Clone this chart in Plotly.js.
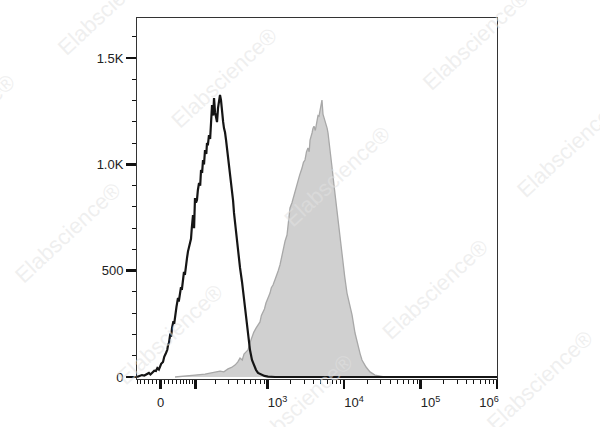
<!DOCTYPE html>
<html>
<head>
<meta charset="utf-8">
<script src="https://cdn.plot.ly/plotly-3.0.1.min.js"></script>
<style>
  html, body { margin: 0; padding: 0; background: #ffffff; }
  #chart { width: 600px; height: 427px; }
</style>
</head>
<body>
<div id="chart"></div>
<script>
// ---- Data (x in biexponential display units: 3 = 10^3, 4 = 10^4 ...; y = event count) ----
const isotypeX = [1.294,1.33,1.359,1.39,1.425,1.45,1.47,1.490,1.52,1.542,1.56,1.58,1.595,1.61,1.634,1.65,1.673,1.69,1.70,1.712,1.73,1.74,1.752,1.77,1.78,1.791,1.81,1.83,1.84,1.869,1.88,1.908,1.92,1.948,1.96,1.987,2.00,2.01,2.026,2.04,2.052,2.065,2.078,2.09,2.105,2.12,2.131,2.145,2.157,2.17,2.183,2.20,2.209,2.22,2.235,2.25,2.261,2.275,2.29,2.301,2.314,2.33,2.340,2.353,2.365,2.379,2.392,2.405,2.42,2.431,2.445,2.458,2.47,2.484,2.51,2.536,2.55,2.562,2.588,2.614,2.641,2.667,2.693,2.719,2.745,2.771,2.797,2.824,2.850,2.876,2.90,2.928,2.96,3.007,3.098,3.294,6.0];
const isotypeY = [0,5,9,7,14,19,12,19,30,28,42,35,47,62,71,95,113,128,150,160,205,190,231,262,250,287,330,372,355,423,410,494,480,560,590,630,650,700,762,700,842,820,833,880,913,900,974,960,1021,1000,1068,1050,1101,1090,1138,1120,1171,1279,1230,1312,1246,1200,1199,1265,1300,1327,1303,1232,1200,1171,1150,1115,1080,1035,950,866,830,772,682,597,513,447,362,268,198,127,80,52,33,19,14,9,5,2,0,0,0];

const stainedX = [1.791,1.895,2.052,2.183,2.275,2.379,2.43,2.484,2.53,2.575,2.61,2.641,2.67,2.693,2.72,2.745,2.77,2.797,2.82,2.850,2.875,2.902,2.92,2.941,2.96,2.980,3.00,3.033,3.05,3.072,3.10,3.124,3.14,3.163,3.18,3.203,3.23,3.255,3.275,3.294,3.32,3.346,3.37,3.399,3.42,3.451,3.47,3.490,3.51,3.529,3.545,3.556,3.57,3.582,3.595,3.608,3.625,3.647,3.66,3.673,3.686,3.70,3.712,3.725,3.74,3.752,3.765,3.78,3.791,3.817,3.83,3.843,3.869,3.895,3.922,3.948,3.987,4.01,4.039,4.06,4.078,4.105,4.144,4.183,4.21,4.235,4.288,4.340,4.405,4.510,4.667,6.0];
const stainedY = [0,5,9,14,19,28,24,38,45,56,70,89,80,108,118,127,160,188,210,230,245,259,290,306,320,348,365,395,420,433,460,480,500,527,560,602,640,668,730,795,820,856,880,927,950,983,1010,1021,1060,1077,1060,1115,1130,1148,1170,1180,1160,1209,1230,1227,1256,1280,1303,1237,1220,1209,1190,1170,1148,1077,1050,988,903,819,738,659,527,470,395,360,339,292,207,141,110,80,47,24,9,2,0,0];

// Axis ticks
const yTickVals = [0, 500, 1000, 1500];
const yTickText = ['0', '500', '1.0K', '1.5K'];
const yMinorVals = [100,200,300,400,600,700,800,900,1100,1200,1300,1400,1600];
const xMajorIntensity = [0, 100, 1000, 10000, 100000, 1000000];
const xLabelIntensity = [0, 1000, 10000, 100000, 1000000];
const xLabelText = ['0', '10<sup>3</sup>', '10<sup>4</sup>', '10<sup>5</sup>', '10<sup>6</sup>'];
const xMinorIntensity = [-60,-50,-40,-30,-20,-10,10,20,30,40,50,60,70,80,90,
  200,300,400,500,600,700,800,900,
  2000,3000,4000,5000,6000,7000,8000,9000,
  20000,30000,40000,50000,60000,70000,80000,90000,
  200000,300000,400000,500000,600000,700000,800000,900000];

// biexponential (arcsinh) display transform used by the axis
const W = 40;
function biex(v) { return Math.log10(W) + Math.asinh(v / (2 * W)) / Math.LN10; }

// small label offsets (label placement of the original software)
const labelShift = [0, 0.13, 0.13, 0.13, -0.105];

const xRange = [1.294, 6.0];
const yRange = [-9.4, 1689];

const traces = [
  {
    x: stainedX, y: stainedY, type: 'scatter', mode: 'lines',
    fill: 'tozeroy', fillcolor: 'rgb(208,208,208)',
    line: { color: 'rgb(168,168,168)', width: 1.3 },
    hoverinfo: 'skip', showlegend: false
  },
  {
    x: isotypeX, y: isotypeY, type: 'scatter', mode: 'lines',
    line: { color: '#151515', width: 2.2 },
    hoverinfo: 'skip', showlegend: false
  },
  { x: [null], y: [null], xaxis: 'x2', type: 'scatter', mode: 'lines', hoverinfo: 'skip', showlegend: false }
];

// watermark positions (paper coordinates)
const wmX = [-0.075, 0.244, 0.939, -0.486, 0.556, 1.203, -0.192, 0.092, 0.453, 0.828, 1.119];
const wmY = [1.036, 0.834, 0.939, 0.704, 0.560, 0.640, 0.407, 0.122, -0.072, 0.247, -0.003];
const annotations = wmX.map((xv, i) => ({
  text: 'Elabscience®', x: xv, y: wmY[i], xref: 'paper', yref: 'paper',
  xanchor: 'center', yanchor: 'middle',
  showarrow: false, textangle: -43,
  font: { family: 'Liberation Sans, Arial, sans-serif', size: 22, color: 'rgba(226,226,226,0.55)' }
}));

const layout = {
  width: 600, height: 427,
  margin: { l: 137, r: 103, t: 18, b: 48 },
  paper_bgcolor: '#ffffff', plot_bgcolor: '#ffffff',
  font: { family: 'Liberation Sans, Arial, sans-serif', size: 13, color: '#222' },
  showlegend: false,
  xaxis: {
    range: xRange, showgrid: false, zeroline: false,
    showline: true, mirror: true, linecolor: '#333', linewidth: 1,
    tickmode: 'array', tickvals: xMajorIntensity.map(biex),
    ticks: 'outside', ticklen: 9, tickwidth: 2.5, tickcolor: '#111',
    showticklabels: false,
    minor: { tickmode: 'array', tickvals: xMinorIntensity.map(biex), ticks: 'outside', ticklen: 4, tickwidth: 1, tickcolor: '#111' }
  },
  xaxis2: {
    overlaying: 'x', anchor: 'y', side: 'bottom',
    range: xRange, showgrid: false, zeroline: false, showline: false,
    tickmode: 'array',
    tickvals: xLabelIntensity.map((v, i) => biex(v) + labelShift[i]),
    ticktext: xLabelText,
    ticks: '', ticklabelstandoff: 14,
    tickfont: { size: 13, color: '#222' }
  },
  yaxis: {
    range: yRange, showgrid: false, zeroline: false,
    showline: true, mirror: true, linecolor: '#333', linewidth: 1,
    tickmode: 'array', tickvals: yTickVals, ticktext: yTickText,
    ticks: 'outside', ticklen: 10, tickwidth: 2.5, tickcolor: '#111',
    minor: { tickmode: 'array', tickvals: yMinorVals, ticks: 'outside', ticklen: 4, tickwidth: 1, tickcolor: '#111' }
  },
  annotations: annotations
};

Plotly.newPlot('chart', traces, layout, { displayModeBar: false, staticPlot: true });
</script>
</body>
</html>
